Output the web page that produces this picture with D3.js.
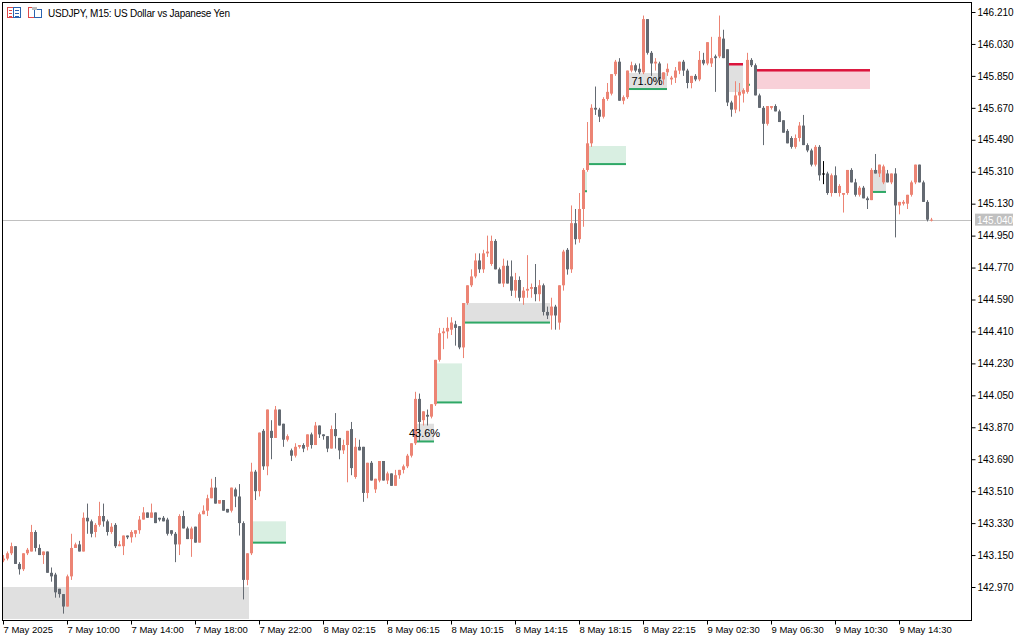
<!DOCTYPE html>
<html><head><meta charset="utf-8">
<script src="https://cdn.jsdelivr.net/npm/d3@7"></script>
<style>html,body{margin:0;background:#fff;}svg{display:block;font-family:"Liberation Sans",Arial,sans-serif;}</style>
</head><body><svg id="c" width="1024" height="640"></svg>
<script>
// OHLC candles (o,h,l,c), 15-minute bars
const candles = [
[143.12,143.15,143.11,143.13],[143.13,143.17,143.12,143.16],[143.16,143.22,143.15,143.20],[143.20,143.20,143.10,143.10],
[143.10,143.11,143.04,143.07],[143.07,143.16,143.06,143.16],[143.16,143.19,143.15,143.18],[143.17,143.32,143.17,143.28],
[143.28,143.29,143.17,143.19],[143.19,143.21,143.15,143.15],[143.15,143.17,143.10,143.17],[143.17,143.17,143.05,143.05],
[143.05,143.08,143.00,143.03],[143.04,143.05,142.91,142.94],[142.96,142.96,142.91,142.93],[142.93,142.93,142.82,142.86],
[142.86,143.04,142.86,143.03],[143.03,143.27,143.01,143.19],[143.19,143.22,143.19,143.21],[143.21,143.23,143.17,143.17],
[143.17,143.39,143.17,143.36],[143.36,143.44,143.27,143.34],[143.34,143.35,143.25,143.27],[143.28,143.33,143.25,143.32],
[143.32,143.45,143.31,143.37],[143.37,143.44,143.31,143.34],[143.34,143.35,143.26,143.28],[143.28,143.33,143.27,143.31],
[143.32,143.33,143.19,143.20],[143.20,143.23,143.20,143.21],[143.20,143.26,143.15,143.26],[143.26,143.26,143.24,143.25],
[143.25,143.29,143.22,143.28],[143.27,143.29,143.25,143.29],[143.29,143.37,143.27,143.35],[143.35,143.42,143.35,143.39],
[143.39,143.39,143.36,143.36],[143.36,143.44,143.36,143.39],[143.39,143.39,143.33,143.33],[143.36,143.36,143.34,143.35],
[143.36,143.37,143.34,143.34],[143.35,143.36,143.26,143.27],[143.29,143.29,143.26,143.27],[143.27,143.28,143.11,143.21],
[143.21,143.38,143.15,143.37],[143.37,143.40,143.30,143.30],[143.30,143.31,143.24,143.24],[143.24,143.31,143.14,143.30],
[143.31,143.31,143.22,143.22],[143.22,143.39,143.22,143.38],[143.38,143.43,143.38,143.40],[143.40,143.49,143.37,143.47],
[143.47,143.58,143.47,143.53],[143.53,143.59,143.44,143.44],[143.44,143.46,143.44,143.46],[143.46,143.46,143.40,143.40],
[143.41,143.41,143.39,143.39],[143.40,143.53,143.39,143.53],[143.52,143.53,143.42,143.48],[143.48,143.55,143.26,143.33],
[143.33,143.34,142.90,143.01],[143.01,143.16,142.98,143.16],[143.16,143.67,143.15,143.62],[143.62,143.63,143.46,143.51],
[143.51,143.84,143.48,143.84],[143.85,143.86,143.63,143.65],[143.65,143.97,143.60,143.97],[143.85,143.91,143.69,143.81],
[143.81,143.99,143.81,143.97],[143.97,143.97,143.88,143.88],[143.89,143.89,143.76,143.80],[143.80,143.83,143.79,143.82],
[143.74,143.75,143.68,143.71],[143.71,143.78,143.70,143.76],[143.76,143.77,143.75,143.77],[143.77,143.78,143.73,143.75],
[143.76,143.83,143.74,143.83],[143.83,143.84,143.75,143.77],[143.77,143.90,143.77,143.88],[143.88,143.88,143.81,143.83],
[143.83,143.83,143.80,143.82],[143.82,143.82,143.73,143.75],[143.75,143.88,143.75,143.86],[143.86,143.95,143.75,143.82],
[143.81,143.81,143.69,143.74],[143.74,143.80,143.72,143.77],[143.77,143.85,143.56,143.85],[143.86,143.90,143.60,143.64],
[143.59,143.81,143.58,143.76],[143.76,143.80,143.74,143.74],[143.76,143.76,143.45,143.50],[143.50,143.67,143.47,143.67],
[143.67,143.68,143.57,143.57],[143.52,143.58,143.50,143.58],[143.57,143.68,143.56,143.68],[143.68,143.68,143.57,143.57],
[143.57,143.62,143.55,143.61],[143.61,143.61,143.54,143.54],[143.54,143.63,143.54,143.60],[143.60,143.63,143.58,143.63],
[143.63,143.66,143.61,143.65],[143.65,143.72,143.64,143.71],[143.71,143.78,143.70,143.78],[143.78,144.07,143.77,144.03],
[144.03,144.06,143.79,143.90],[143.91,143.96,143.88,143.96],[143.94,143.97,143.88,143.93],[143.93,144.00,143.92,144.00],
[144.00,144.25,143.99,144.25],[144.25,144.43,144.24,144.40],[144.40,144.43,144.31,144.41],[144.41,144.49,144.37,144.43],
[144.42,144.49,144.39,144.46],[144.45,144.47,144.33,144.43],[144.44,144.44,144.31,144.32],[144.32,144.57,144.26,144.57],
[144.57,144.67,144.56,144.67],[144.67,144.76,144.66,144.72],[144.72,144.85,144.71,144.81],[144.81,144.85,144.74,144.76],
[144.76,144.87,144.74,144.85],[144.85,144.95,144.83,144.86],[144.79,144.95,144.78,144.92],[144.92,144.93,144.76,144.76],
[144.76,144.77,144.68,144.68],[144.68,144.82,144.66,144.78],[144.78,144.81,144.68,144.68],[144.72,144.81,144.61,144.64],
[144.64,144.74,144.60,144.70],[144.70,144.72,144.58,144.60],[144.60,144.66,144.56,144.64],[144.64,144.84,144.60,144.65],
[144.65,144.68,144.60,144.66],[144.66,144.79,144.58,144.62],[144.62,144.70,144.58,144.67],[144.67,144.68,144.50,144.52],
[144.52,144.55,144.48,144.50],[144.50,144.60,144.42,144.55],[144.55,144.56,144.42,144.50],[144.46,144.67,144.42,144.67],
[144.67,144.87,144.64,144.86],[144.87,144.88,144.73,144.76],[144.76,145.12,144.74,145.02],[145.02,145.10,144.90,144.93],
[144.93,145.19,144.91,145.10],[145.10,145.33,145.00,145.32],[145.32,145.59,145.31,145.47],[145.47,145.69,145.45,145.67],
[145.67,145.79,145.63,145.66],[145.66,145.67,145.59,145.62],[145.62,145.73,145.61,145.72],[145.72,145.81,145.71,145.76],
[145.75,145.86,145.74,145.86],[145.86,145.94,145.85,145.93],[145.93,145.95,145.71,145.71],[145.71,145.74,145.69,145.73],
[145.73,145.88,145.72,145.88],[145.88,145.93,145.87,145.91],[145.91,145.92,145.87,145.88],[145.89,145.92,145.86,145.87],
[145.87,146.19,145.86,146.17],[146.17,146.17,145.97,145.98],[145.98,145.99,145.85,145.92],[145.92,145.95,145.88,145.93],
[145.92,145.93,145.80,145.83],[145.83,145.87,145.80,145.87],[145.87,145.92,145.85,145.89],[145.83,145.85,145.80,145.84],
[145.84,145.90,145.81,145.88],[145.88,145.93,145.86,145.93],[145.93,145.94,145.85,145.88],[145.88,145.89,145.78,145.81],
[145.81,145.85,145.78,145.85],[145.85,145.86,145.82,145.83],[145.83,145.99,145.82,145.94],[145.94,145.98,145.91,145.92],
[145.92,146.04,145.91,146.04],[145.92,146.07,145.90,145.95],[145.96,145.97,145.76,145.95],[145.96,146.19,145.95,146.07],
[146.06,146.11,145.95,145.95],[146.00,146.00,145.68,145.70],[145.70,145.71,145.62,145.66],[145.66,145.82,145.64,145.74],
[145.74,145.81,145.65,145.76],[145.75,145.78,145.70,145.77],[145.76,145.98,145.75,145.94],[145.94,145.95,145.90,145.91],
[145.91,145.92,145.74,145.74],[145.74,145.75,145.67,145.67],[145.67,145.68,145.46,145.58],[145.58,145.68,145.57,145.68],
[145.67,145.68,145.66,145.68],[145.68,145.69,145.65,145.65],[145.65,145.66,145.59,145.59],[145.60,145.60,145.53,145.53],
[145.54,145.55,145.47,145.47],[145.50,145.51,145.44,145.45],[145.45,145.52,145.44,145.50],[145.50,145.59,145.48,145.57],
[145.57,145.63,145.46,145.46],[145.46,145.47,145.42,145.43],[145.43,145.44,145.34,145.35],[145.35,145.46,145.34,145.45],
[145.45,145.46,145.26,145.29],[145.30,145.37,145.24,145.30],[145.30,145.31,145.18,145.19],[145.19,145.30,145.17,145.29],
[145.29,145.34,145.19,145.19],[145.19,145.24,145.17,145.23],[145.18,145.19,145.08,145.19],[145.19,145.32,145.18,145.32],
[145.32,145.33,145.25,145.25],[145.25,145.27,145.17,145.18],[145.18,145.23,145.17,145.22],[145.22,145.23,145.16,145.16],
[145.16,145.17,145.10,145.15],[145.15,145.33,145.15,145.32],[145.32,145.41,145.30,145.30],[145.30,145.35,145.28,145.35],
[145.25,145.35,145.24,145.34],[145.30,145.32,145.25,145.25],[145.25,145.30,145.24,145.30],[145.30,145.33,144.94,145.12],
[145.12,145.14,145.07,145.14],[145.13,145.15,145.12,145.14],[145.13,145.18,145.10,145.18],[145.18,145.26,145.17,145.25],
[145.25,145.35,145.24,145.35],[145.35,145.35,145.25,145.25],[145.25,145.26,145.14,145.14],[145.14,145.15,145.03,145.04],
[145.035,145.05,145.03,145.04]
];
const lastPrice = 145.040;
const priceTicks = [146.21,146.03,145.85,145.67,145.49,145.31,145.13,144.95,144.77,144.59,144.41,144.23,144.05,143.87,143.69,143.51,143.33,143.15,142.97];
const timeLabels = ["7 May 2025","7 May 10:00","7 May 14:00","7 May 18:00","7 May 22:00","8 May 02:15","8 May 06:15","8 May 10:15","8 May 14:15","8 May 18:15","8 May 22:15","9 May 02:30","9 May 06:30","9 May 10:30","9 May 14:30"];
const timeLabelBars = [0,16,32,48,64,80,96,112,128,144,160,176,192,208,224];
// zones: [startBar, endBar, topPrice, bottomPrice, kind, line, label]
const zones = [
[0,61.5,142.97,142.79,"gray","none",""],
[62,70.75,143.34,143.22,"green","bottom",""],
[103,107.75,143.89,143.79,"gray","bottom","43.6%"],
[107.75,114.75,144.23,144.01,"green","bottom",""],
[115,136.75,144.57,144.46,"gray","bottom",""],
[144.75,146,145.31,145.20,"green","bottom",""],
[146,155.75,145.455,145.353,"green","bottom",""],
[156,166,145.866,145.776,"gray","bottom","71.0%"],
[180.75,185,145.917,145.759,"gray","top",""],
[185.75,186.75,145.80,145.80,"green","bottom",""],
[187.75,216.75,145.883,145.776,"pink","top",""],
[217,220.75,145.32,145.196,"gray","bottom",""]
];

(function(){
const svg = d3.select("#c");
const pL=2, pR=971, pT=2, pB=620;
const x = d3.scaleLinear().domain([0,1]).range([3,7]);
const y = d3.scaleLinear().domain([142.97,146.21]).range([587,12]);
const fills = {gray:"#e0e0e0", green:"#d9efe2", pink:"#f8d0d8"};

svg.append("defs").append("clipPath").attr("id","cp").append("rect").attr("x",pL).attr("y",pT).attr("width",pR-pL).attr("height",pB-pT);
const plot = svg.append("g").attr("clip-path","url(#cp)");

zones.forEach(z=>{
  const x0=x(z[0]), x1=x(z[1]), y0=y(z[2]), y1=y(z[3]);
  if (y1-y0>0.5) plot.append("rect").attr("x",x0).attr("y",y0).attr("width",x1-x0).attr("height",y1-y0).attr("fill",fills[z[4]]);
  if (z[5]==="bottom") plot.append("rect").attr("x",x0).attr("y",y1-1).attr("width",x1-x0).attr("height",2).attr("fill","#2fa866");
  if (z[5]==="top") plot.append("rect").attr("x",x0).attr("y",y0-1).attr("width",x1-x0).attr("height",2.5).attr("fill","#dc143c");
});

plot.append("line").attr("x1",pL).attr("x2",pR).attr("y1",Math.round(y(lastPrice))+0.5).attr("y2",Math.round(y(lastPrice))+0.5).attr("stroke","#c0c0c0");

const cg = plot.append("g");
candles.forEach((d,i)=>{
  const [o,h,l,c]=d;
  const col = c>o ? "#ec8474" : (c===o ? "#000" : "#646a72");
  const cx = Math.round(x(i));
  cg.append("rect").attr("x",cx).attr("y",y(h)).attr("width",1).attr("height",Math.max(1,y(l)-y(h))).attr("fill",col);
  const bt=y(Math.max(o,c)), bb=y(Math.min(o,c));
  cg.append("rect").attr("x",cx-1).attr("y",bt).attr("width",3).attr("height",Math.max(1,bb-bt)).attr("fill",col);
});

zones.filter(z=>z[6]).forEach(z=>{
  plot.append("text").attr("x",(x(z[0])+x(z[1]))/2).attr("y",(y(z[2])+y(z[3]))/2+4)
    .attr("text-anchor","middle").attr("font-size",11).attr("fill","#000").text(z[6]);
});

svg.append("rect").attr("x",pL+0.5).attr("y",pT+0.5).attr("width",pR-pL).attr("height",pB-pT).attr("fill","none").attr("stroke","#000");

const ya = d3.axisRight(y).tickValues(priceTicks).tickSize(4).tickFormat(d3.format(".3f"));
const yg = svg.append("g").attr("transform",`translate(${pR+0.5},0)`).call(ya);
yg.select(".domain").remove();
yg.selectAll("text").attr("font-size",10).attr("fill","#000").attr("x",6);
yg.selectAll("line").attr("stroke","#000");

svg.append("rect").attr("x",975).attr("y",y(lastPrice)-6).attr("width",38).attr("height",12).attr("fill","#c0c0c0");
svg.append("text").attr("x",977).attr("y",y(lastPrice)+4).attr("font-size",10).attr("fill","#fff").text(lastPrice.toFixed(3));

const xa = d3.axisBottom(x).tickValues(timeLabelBars).tickSize(4).tickFormat((d,i)=>timeLabels[i]);
const xg = svg.append("g").attr("transform",`translate(0,${pB+0.5})`).call(xa);
xg.select(".domain").remove();
xg.selectAll("line").attr("stroke","#000");
xg.selectAll("text").attr("font-size",9.5).attr("fill","#000").attr("text-anchor","start").attr("dx",0).attr("y",6);

const ic = svg.append("g");
ic.append("rect").attr("x",7.5).attr("y",7.5).attr("width",6).attr("height",10).attr("fill","#fff").attr("stroke","#e04848");
ic.append("rect").attr("x",13.5).attr("y",7.5).attr("width",7).attr("height",10).attr("fill","#fff").attr("stroke","#2a64b0");
[10,13,16].forEach(v=>{
  ic.append("rect").attr("x",9).attr("y",v).attr("width",3).attr("height",1).attr("fill","#e04848");
  ic.append("rect").attr("x",15).attr("y",v).attr("width",4).attr("height",1).attr("fill","#2a64b0");
});
ic.append("rect").attr("x",28.5).attr("y",7.5).attr("width",6).attr("height",10).attr("fill","#fff").attr("stroke","#e04848");
ic.append("rect").attr("x",34.5).attr("y",9.5).attr("width",7).attr("height",8).attr("fill","#fff").attr("stroke","#2a64b0");
ic.append("rect").attr("x",32).attr("y",7).attr("width",5).attr("height",3).attr("fill","#bbb");
svg.append("text").attr("x",48).attr("y",17).attr("font-size",10).attr("fill","#000").attr("textLength",182).text("USDJPY, M15:  US Dollar vs Japanese Yen");
})();
</script></body></html>
